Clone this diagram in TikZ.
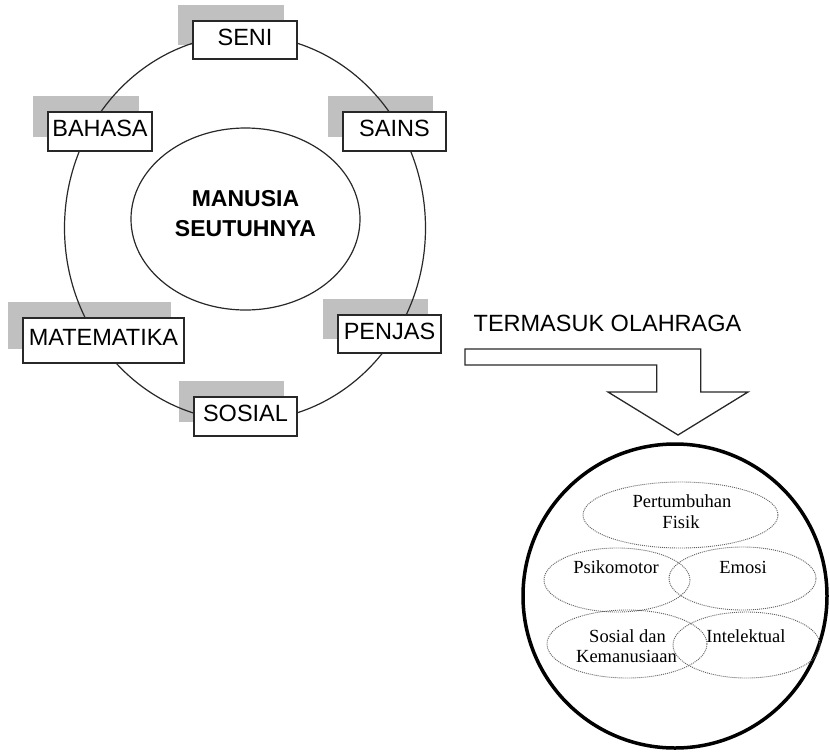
\documentclass[tikz,border=0pt]{standalone}
\usepackage{fontspec}
\setmainfont{Liberation Serif}
\newfontfamily\arialf{Liberation Sans}
\usetikzlibrary{shapes.geometric}
\definecolor{shadowgray}{RGB}{192,192,192}
\definecolor{ink}{RGB}{40,40,40}
\pgfdeclarelayer{shadowlayer}
\pgfdeclarelayer{ringlayer}
\pgfsetlayers{shadowlayer,ringlayer,main}
\tikzset{
  subj/.style={draw=ink, line width=1.3pt, fill=white, inner sep=0pt, rectangle,
    font=\arialf\fontsize{23.5}{28}\selectfont, text height=17pt, text depth=7pt},
  dots/.style={ellipse, draw=gray!75!black, line width=0.9pt, dash pattern=on 1pt off 1pt, inner sep=0pt},
  aspect/.style={font=\fontsize{18.5}{21}\selectfont, anchor=base, inner sep=0pt},
}
\begin{document}
\begin{tikzpicture}[x=1pt,y=-1pt]
\path[use as bounding box] (0,0) rectangle (830,753);

% subject boxes
\node[subj, minimum width=104pt, minimum height=38pt] (seni) at (245,40) {SENI};
\node[subj, minimum width=104pt, minimum height=39pt] (bahasa) at (100,131.5) {BAHASA};
\node[subj, minimum width=103pt, minimum height=39pt] (sains) at (394.5,131.5) {SAINS};
\node[subj, minimum width=161pt, minimum height=45pt] (matematika) at (103.5,340.5) {MATEMATIKA};
\node[subj, minimum width=103pt, minimum height=38pt] (penjas) at (389.5,334) {PENJAS};
\node[subj, minimum width=103pt, minimum height=39pt] (sosial) at (245.5,416.5) {SOSIAL};

\begin{pgfonlayer}{shadowlayer}
\foreach \n in {seni,bahasa,sains,matematika,penjas,sosial}
  \fill[shadowgray] ([shift={(-14,-15)}]\n.south west) rectangle ([shift={(-14,-15)}]\n.north east);
\end{pgfonlayer}

\begin{pgfonlayer}{ringlayer}
\draw[ink, line width=1.2pt] (245,228) ellipse [x radius=180.5, y radius=193];
\end{pgfonlayer}

% centre
\node[ellipse, draw=ink, line width=1.2pt, minimum width=229pt, minimum height=182pt, inner sep=0pt] (core) at (245.5,219) {};
\node[font=\arialf\bfseries\fontsize{23}{30}\selectfont, align=center, inner sep=0pt] (coretext) at (245.5,213.5) {MANUSIA\\SEUTUHNYA};

% label and arrow
\node[font=\arialf\fontsize{23.5}{28}\selectfont, anchor=base, inner sep=0pt] (termasuk) at (607.5,331) {TERMASUK OLAHRAGA};
\draw[ink, line width=1.3pt, line join=miter]
  (465,349) -- (700.7,349) -- (700.7,392) -- (748,392) -- (678,435) -- (608,392)
  -- (656.7,392) -- (656.7,365) -- (465,365) -- cycle;

% aspects circle
\node[circle, draw=black, line width=3.5pt, minimum size=304pt, inner sep=0pt] (aspek) at (675,596) {};
\node[dots, minimum width=195pt, minimum height=66pt] (fisik) at (680.5,515) {};
\node[dots, minimum width=146pt, minimum height=64pt] (psiko) at (617,580) {};
\node[dots, minimum width=147pt, minimum height=63pt] (emosi) at (742.5,578.5) {};
\node[dots, minimum width=160pt, minimum height=68pt] (sosk) at (627,644) {};
\node[dots, minimum width=147pt, minimum height=66pt] (intel) at (746.5,645) {};

\node[aspect] (t1) at (682,507) {Pertumbuhan};
\node[aspect] (t2) at (681,528) {Fisik};
\node[aspect] (t3) at (616,573) {Psikomotor};
\node[aspect] (t4) at (743,573) {Emosi};
\node[aspect] (t5) at (627.5,642) {Sosial dan};
\node[aspect] (t6) at (626.5,662) {Kemanusiaan};
\node[aspect] (t7) at (746,642) {Intelektual};
\end{tikzpicture}
\end{document}
